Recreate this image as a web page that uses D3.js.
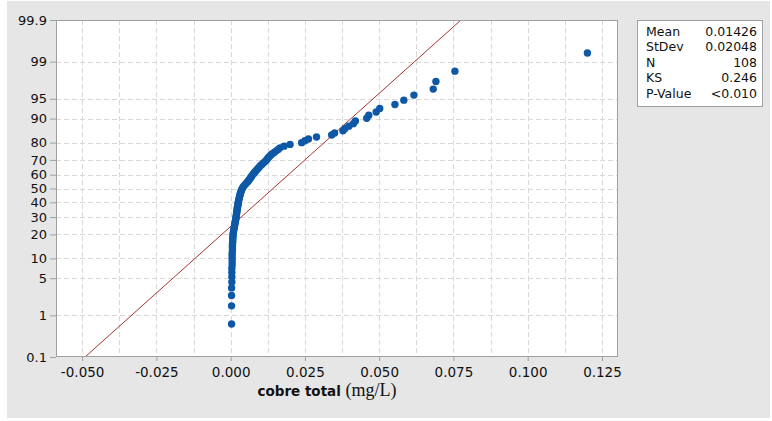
<!DOCTYPE html>
<html>
<head>
<meta charset="utf-8">
<script src="https://cdn.jsdelivr.net/npm/d3@7"></script>
<style>
  body { margin: 0; background: #fff; }
  svg { display: block; }
</style>
</head>
<body>
<svg id="chart" width="772" height="421"></svg>
<script>
// sorted cobre total values (mg/L)
const values = [
  0.0003, 0.0003, 0.0003, 0.0003, 0.0004, 0.0004, 0.0004, 0.0004, 0.0005, 0.0005,
  0.0005, 0.0005, 0.0005, 0.0006, 0.0006, 0.0006, 0.0006, 0.0007, 0.0007, 0.0007,
  0.0008, 0.0008, 0.0009, 0.0010, 0.0011, 0.0012, 0.0013, 0.0014, 0.0015, 0.0016,
  0.0017, 0.0018, 0.0018, 0.0019, 0.0020, 0.0020, 0.0021, 0.0022, 0.0022, 0.0023,
  0.0024, 0.0025, 0.0025, 0.0026, 0.0027, 0.0028, 0.0029, 0.0030, 0.0031, 0.0032,
  0.0033, 0.0035, 0.0036, 0.0038, 0.0040, 0.0043, 0.0046, 0.0050, 0.0054, 0.0058,
  0.0061, 0.0064, 0.0067, 0.0070, 0.0073, 0.0077, 0.0080, 0.0084, 0.0088, 0.0092,
  0.0096, 0.0100, 0.0105, 0.0110, 0.0116, 0.0120, 0.0124, 0.0128, 0.0133, 0.0138,
  0.0145, 0.0152, 0.0160, 0.0166, 0.0180, 0.0200, 0.0239, 0.0250, 0.0262, 0.0289,
  0.0340, 0.0350, 0.0378, 0.0385, 0.0398, 0.0413, 0.0420, 0.0458, 0.0465, 0.0490,
  0.0502, 0.0553, 0.0583, 0.0617, 0.0682, 0.0691, 0.0755, 0.1201
];

const xTicks = [-0.05, -0.025, 0, 0.025, 0.05, 0.075, 0.1, 0.125];
const xTickLabels = ["-0.050", "-0.025", "0.000", "0.025", "0.050", "0.075", "0.100", "0.125"];
const yTicks = [0.1, 1, 5, 10, 20, 30, 40, 50, 60, 70, 80, 90, 95, 99, 99.9];

const statNames = ["Mean", "StDev", "N", "KS", "P-Value"];
const statValues = ["0.01426", "0.02048", "108", "0.246", "<0.010"];
const mean = 0.01426, sd = 0.02048;

// inverse normal cdf (Acklam)
const probit = p => {
  const a = [-39.69683028665376, 220.9460984245205, -275.9285104469687, 138.357751867269, -30.66479806614716, 2.506628277459239];
  const b = [-54.47609879822406, 161.5858368580409, -155.6989798598866, 66.80131188771972, -13.28068155288572];
  const c = [-0.007784894002430293, -0.3223964580411365, -2.400758277161838, -2.549732539343734, 4.374664141464968, 2.938163982698783];
  const d = [0.007784695709041462, 0.3224671290700398, 2.445134137142996, 3.754408661907416];
  const pl = 0.02425;
  let q, r;
  if (p < pl) {
    q = Math.sqrt(-2 * Math.log(p));
    return (((((c[0]*q+c[1])*q+c[2])*q+c[3])*q+c[4])*q+c[5]) / ((((d[0]*q+d[1])*q+d[2])*q+d[3])*q+1);
  }
  if (p <= 1 - pl) {
    q = p - 0.5; r = q * q;
    return (((((a[0]*r+a[1])*r+a[2])*r+a[3])*r+a[4])*r+a[5])*q / (((((b[0]*r+b[1])*r+b[2])*r+b[3])*r+b[4])*r+1);
  }
  q = Math.sqrt(-2 * Math.log(1 - p));
  return -(((((c[0]*q+c[1])*q+c[2])*q+c[3])*q+c[4])*q+c[5]) / ((((d[0]*q+d[1])*q+d[2])*q+d[3])*q+1);
};

const svg = d3.select("#chart");
const pLeft = 56, pRight = 618, pTop = 20, pBottom = 357;
const n = values.length;

// points: median rank plotting positions
const points = values.map((v, i) => ({ x: v, z: probit((i + 1 - 0.3) / (n + 0.4)) }));

const x = d3.scaleLinear().domain([-0.0588, 0.1304]).range([pLeft, pRight]);
const zMax = probit(0.999);
const y = d3.scaleLinear().domain([-zMax, zMax]).range([pBottom, pTop]);

svg.append("rect").attr("x", 7).attr("y", 1).attr("width", 763).attr("height", 417).attr("fill", "#e6e6e6");
svg.append("rect").attr("x", pLeft).attr("y", pTop).attr("width", pRight - pLeft).attr("height", pBottom - pTop).attr("fill", "#fff");

// grid
const grid = svg.append("g").attr("stroke", "#d8d8d8").attr("stroke-dasharray", "5,3").attr("stroke-width", 1);
grid.selectAll("line.v")
  .data(d3.range(-4, 11).map(k => k * 0.0125))
  .join("line")
    .attr("x1", d => Math.round(x(d)) + 0.5).attr("x2", d => Math.round(x(d)) + 0.5)
    .attr("y1", pTop).attr("y2", pBottom);
grid.selectAll("line.h")
  .data(yTicks.slice(1, -1))
  .join("line")
    .attr("x1", pLeft).attr("x2", pRight)
    .attr("y1", d => Math.round(y(probit(d / 100))) + 0.5).attr("y2", d => Math.round(y(probit(d / 100))) + 0.5);

svg.append("defs").append("clipPath").attr("id", "clip")
  .append("rect").attr("x", pLeft).attr("y", pTop).attr("width", pRight - pLeft).attr("height", pBottom - pTop);

// fitted line
const zs = [-zMax, zMax];
svg.append("path")
  .datum(zs)
  .attr("clip-path", "url(#clip)")
  .attr("fill", "none")
  .attr("stroke", "#a83232")
  .attr("stroke-width", 1)
  .attr("d", d3.line().x(z => x(mean + z * sd)).y(z => y(z)));

// points
svg.append("g")
  .selectAll("circle")
  .data(points)
  .join("circle")
    .attr("cx", d => x(d.x))
    .attr("cy", d => y(d.z))
    .attr("r", 3.7)
    .attr("fill", "#0e58a6");

// frame
svg.append("rect").attr("x", pLeft + 0.5).attr("y", pTop + 0.5).attr("width", pRight - pLeft - 1).attr("height", pBottom - pTop - 1)
  .attr("fill", "none").attr("stroke", "#a0a0a0");

// axes
const xAxis = svg.append("g").attr("transform", `translate(0,${pBottom})`)
  .call(d3.axisBottom(x).tickValues(xTicks).tickSize(4).tickPadding(6).tickFormat((d, i) => xTickLabels[i]));
const yAxis = svg.append("g").attr("transform", `translate(${pLeft},0)`)
  .call(d3.axisLeft(y).tickValues(yTicks.map(p => probit(p / 100))).tickSize(6).tickPadding(3).tickFormat((d, i) => yTicks[i]));
[xAxis, yAxis].forEach(g => {
  g.select(".domain").remove();
  g.selectAll(".tick line").attr("stroke", "#a0a0a0");
  g.selectAll(".tick text").attr("fill", "#111").style("font-family", "'DejaVu Sans', sans-serif");
});
xAxis.selectAll(".tick text").style("font-size", "13.5px");
yAxis.selectAll(".tick text").style("font-size", "13px");

// axis title
const title = svg.append("text").attr("x", 327).attr("y", 396).attr("text-anchor", "middle").attr("fill", "#111");
title.append("tspan").style("font-family", "'DejaVu Sans', sans-serif").style("font-weight", "bold").style("font-size", "13.5px").text("cobre total ");
title.append("tspan").style("font-family", "'Liberation Serif', serif").style("font-size", "18px").text("(mg/L)");

// stats box
const box = svg.append("g");
box.append("rect").attr("x", 637.5).attr("y", 20.5).attr("width", 125).attr("height", 86)
  .attr("fill", "#fff").attr("stroke", "#a0a0a0");
statNames.forEach((s, i) => {
  box.append("text").attr("x", 646).attr("y", 35.5 + i * 15.5)
    .style("font-family", "'DejaVu Sans', sans-serif").style("font-size", "12.5px").attr("fill", "#111").text(s);
  box.append("text").attr("x", 757).attr("y", 35.5 + i * 15.5).attr("text-anchor", "end")
    .style("font-family", "'DejaVu Sans', sans-serif").style("font-size", "12.5px").attr("fill", "#111").text(statValues[i]);
});
</script>
</body>
</html>
